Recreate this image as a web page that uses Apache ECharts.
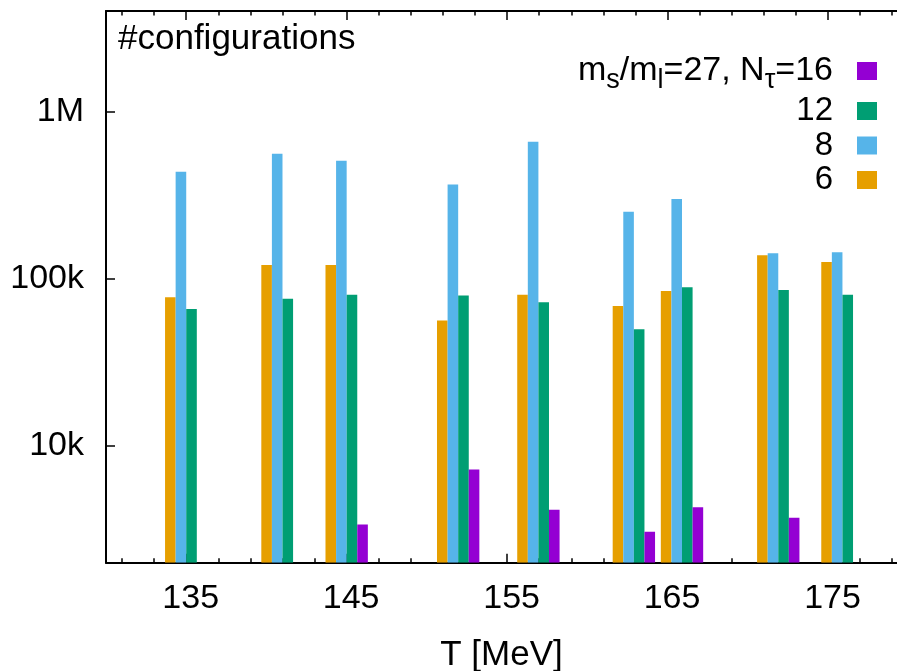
<!DOCTYPE html>
<html>
<head>
<meta charset="utf-8">
<title>#configurations</title>
<script src="https://cdn.jsdelivr.net/npm/echarts@6/dist/echarts.min.js"></script>
<style>
  html, body { margin: 0; padding: 0; background: #fff; }
  #chart { width: 897px; height: 671px; }
</style>
</head>
<body>
<div id="chart"></div>
<script>
'use strict';

// temperatures of the bar groups (MeV)
var temps = [135, 141, 145, 151.95, 156.95, 162.9, 165.9, 171.9, 175.9];
// number of configurations per N_tau (null = no run)
var nt6  = [77600, 121000, 121000, 56200, 80200, 68600, 84400, 138000, 126000];
var nt8  = [436000, 559000, 508000, 367000, 661000, 252000, 300000, 142000, 144000];
var nt12 = [66000, 75900, 80200, 79400, 72400, 49900, 89100, 85500, 80200];
var nt16 = [null, null, 3390, 7230, 4150, 3060, 4290, 3720, null];

var majorTicks = [135, 145, 155, 165, 175];
var minorTicks = [131, 133, 137, 139, 141, 143, 147, 149, 151, 153, 157, 159,
                  161, 163, 167, 169, 171, 173, 177, 179];

var FONT = 'Liberation Sans, Arial, Helvetica, sans-serif';
var yMin = 2000, yMax = 4e6;
var xMin = 130, xMax = 179.3; // the frame runs off the right edge of the picture
var barW = 0.66; // bar width in MeV

function pairs(vals) {
    var out = [];
    for (var i = 0; i < temps.length; i++) {
        if (vals[i] != null) out.push([temps[i], vals[i]]);
    }
    return out;
}

// slot 0..3 from left to right inside a group
function barRenderer(slot) {
    return function (params, api) {
        var t = api.value(0), v = api.value(1);
        var p0 = api.coord([t + (slot - 2) * barW, v]);
        var p1 = api.coord([t + (slot - 1) * barW, v]);
        var base = api.coord([t, yMin]);
        return {
            type: 'rect',
            shape: { x: p0[0], y: p0[1], width: p1[0] - p0[0], height: base[1] - p0[1] },
            style: api.style()
        };
    };
}

function barSeries(name, vals, slot, color) {
    return {
        name: name,
        type: 'custom',
        xAxisIndex: 0,
        yAxisIndex: 0,
        renderItem: barRenderer(slot),
        itemStyle: { color: color },
        encode: { x: 0, y: 1 },
        data: pairs(vals),
        clip: true
    };
}

function xAxisDef(pos, ticks, len, withLine, withLabel) {
    return {
        type: 'value',
        position: pos,
        min: xMin,
        max: xMax,
        splitLine: { show: false },
        axisLine: { show: withLine, onZero: false, lineStyle: { color: '#000', width: 2 } },
        axisTick: { show: true, inside: true, length: len, customValues: ticks,
                    lineStyle: { color: '#000', width: 1.5 } },
        axisLabel: withLabel ? {
            show: true, customValues: majorTicks, color: '#000', fontFamily: FONT,
            fontSize: 34, margin: 19, padding: [0, 0, 0, 9]
        } : { show: false }
    };
}

var chart = echarts.init(document.getElementById('chart'));

var xBottom = xAxisDef('bottom', majorTicks, 9, true, true);
xBottom.name = 'T [MeV]';
xBottom.nameLocation = 'middle';
xBottom.nameGap = 75;
xBottom.nameTextStyle = { color: '#000', fontFamily: FONT, fontSize: 35 };

var option = {
    backgroundColor: '#fff',
    animation: false,
    grid: { left: 106, top: 11, right: 0, height: 551.7, containLabel: false, outerBoundsMode: 'none' },
    xAxis: [
        xBottom,
        xAxisDef('bottom', minorTicks, 4.5, false, false),
        xAxisDef('top', majorTicks, 9, true, false),
        xAxisDef('top', minorTicks, 4.5, false, false)
    ],
    yAxis: [{
        type: 'log',
        logBase: 10,
        min: yMin,
        max: yMax,
        splitLine: { show: false },
        minorTick: { show: false },
        axisLine: { show: true, lineStyle: { color: '#000', width: 2 } },
        axisTick: { inside: true, length: 9, lineStyle: { color: '#000', width: 1.5 } },
        axisLabel: {
            color: '#000', fontFamily: FONT, fontSize: 34, margin: 22,
            showMinLabel: false, showMaxLabel: false,
            formatter: function (v) {
                if (v >= 1e6) return Math.round(v / 1e6) + 'M';
                return Math.round(v / 1e3) + 'k';
            }
        }
    }],
    legend: [{
        data: ['16'],
        orient: 'vertical',
        align: 'right',
        right: 20,
        top: 54,
        padding: 0,
        icon: 'rect',
        itemWidth: 20,
        itemHeight: 18,
        selectedMode: false,
        formatter: function () {
            return '{t|m}{s|s}{t|/m}{s|l}{t|=27, N}{s|τ}{t|=16}';
        },
        textStyle: {
            color: '#000', fontFamily: FONT, fontSize: 34, padding: [0, 19, 0, 0],
            rich: {
                t: { color: '#000', fontFamily: FONT, fontSize: 34 },
                s: { color: '#000', fontFamily: FONT, fontSize: 27, padding: [20, 0, 0, 0] }
            }
        }
    }, {
        data: ['12', '8', '6'],
        orient: 'vertical',
        align: 'right',
        right: 20,
        top: 94.5,
        padding: 0,
        itemGap: 1.5,
        icon: 'rect',
        itemWidth: 20,
        itemHeight: 18,
        selectedMode: false,
        textStyle: { color: '#000', fontFamily: FONT, fontSize: 33, padding: [0, 19, 0, 0] }
    }],
    graphic: [{
        type: 'text',
        left: 118,
        top: 22,
        style: { text: '#configurations', fill: '#000', font: '35px ' + FONT }
    }],
    series: [
        barSeries('6', nt6, 0, '#e69f00'),
        barSeries('8', nt8, 1, '#56b4e9'),
        barSeries('12', nt12, 2, '#009e73'),
        barSeries('16', nt16, 3, '#9400d3')
    ]
};

chart.setOption(option);
</script>
</body>
</html>
